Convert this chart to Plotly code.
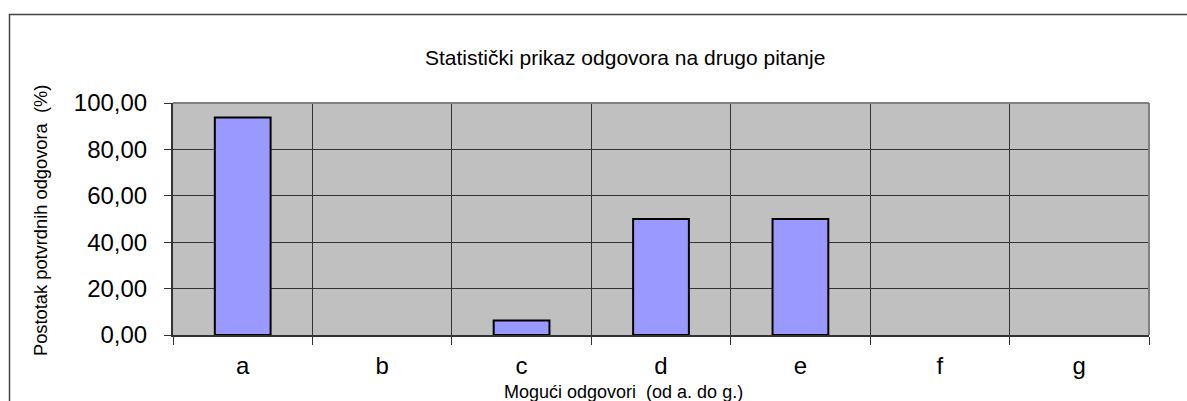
import plotly.graph_objects as go

# Answer categories and share of affirmative answers (%)
categories = ["a", "b", "c", "d", "e", "f", "g"]
values = [93.75, 0.0, 6.25, 50.0, 50.0, 0.0, 0.0]
y_ticks = [0, 20, 40, 60, 80, 100]

title_text = "Statistički prikaz odgovora na drugo pitanje"
x_title = "Mogući odgovori  (od a. do g.)"
y_title = "Postotak potvrdnih odgovora  (%)"

W, H = 1187, 401
L, R, T, B = 173, 38, 103, 66
pw, ph = W - L - R, H - T - B


def px_x(x):
    return (x - L) / pw


def px_y(y):
    return (H - B - y) / ph


font = "Liberation Sans, Arial, sans-serif"

# empty answers get no outline so nothing sits on the base line
outline_widths = [2 if v > 0 else 0 for v in values]

fig = go.Figure(
    go.Bar(
        x=categories,
        y=values,
        marker=dict(color="#9999FF", line=dict(color="#000000", width=outline_widths)),
        hoverinfo="x+y",
    )
)

fig.update_layout(
    width=W,
    height=H,
    margin=dict(l=L, r=R, t=T, b=B),
    paper_bgcolor="#FFFFFF",
    plot_bgcolor="#C0C0C0",
    bargap=0.6,
    separators=",.",
    showlegend=False,
    font=dict(family=font, color="#000000"),
)

fig.update_xaxes(
    type="category",
    tickson="boundaries",
    ticks="outside",
    ticklen=8,
    tickcolor="#333333",
    showgrid=True,
    gridcolor="#333333",
    gridwidth=1,
    showline=True,
    linecolor="#333333",
    linewidth=2,
    tickfont=dict(size=24, family=font),
    ticklabelstandoff=8,
    range=[-0.5, 6.5],
)

fig.update_yaxes(
    range=[0, 100],
    tickvals=y_ticks,
    tickformat=".2f",
    ticks="outside",
    ticklen=7,
    tickcolor="#333333",
    showgrid=True,
    gridcolor="#333333",
    gridwidth=1,
    zeroline=False,
    showline=True,
    linecolor="#333333",
    linewidth=2,
    tickfont=dict(size=24, family=font),
    ticklabelstandoff=12,
)

# Outer chart frame, running off the right and bottom of the page
fig.add_shape(
    type="rect", xref="paper", yref="paper",
    x0=px_x(9.5), x1=px_x(1200), y0=px_y(14.5), y1=px_y(420),
    line=dict(color="#444444", width=1.5), fillcolor="rgba(0,0,0,0)",
    layer="below",
)
# Grey plot-area border on top and right
fig.add_shape(
    type="line", xref="paper", yref="paper",
    x0=0, x1=1, y0=1, y1=1, line=dict(color="#808080", width=2),
)
fig.add_shape(
    type="line", xref="paper", yref="paper",
    x0=1, x1=1, y0=0, y1=1, line=dict(color="#808080", width=2),
)

fig.add_annotation(
    text=title_text, xref="paper", yref="paper",
    x=px_x(625), y=px_y(57), showarrow=False,
    font=dict(size=21, family=font), xanchor="center", yanchor="middle",
)
fig.add_annotation(
    text=x_title, xref="paper", yref="paper",
    x=px_x(623), y=px_y(392), showarrow=False,
    font=dict(size=18, family=font), xanchor="center", yanchor="middle",
)
fig.add_annotation(
    text=y_title, xref="paper", yref="paper",
    x=px_x(40), y=px_y(221), showarrow=False, textangle=-90,
    font=dict(size=18.3, family=font), xanchor="center", yanchor="middle",
)

fig.write_html("out.html")
